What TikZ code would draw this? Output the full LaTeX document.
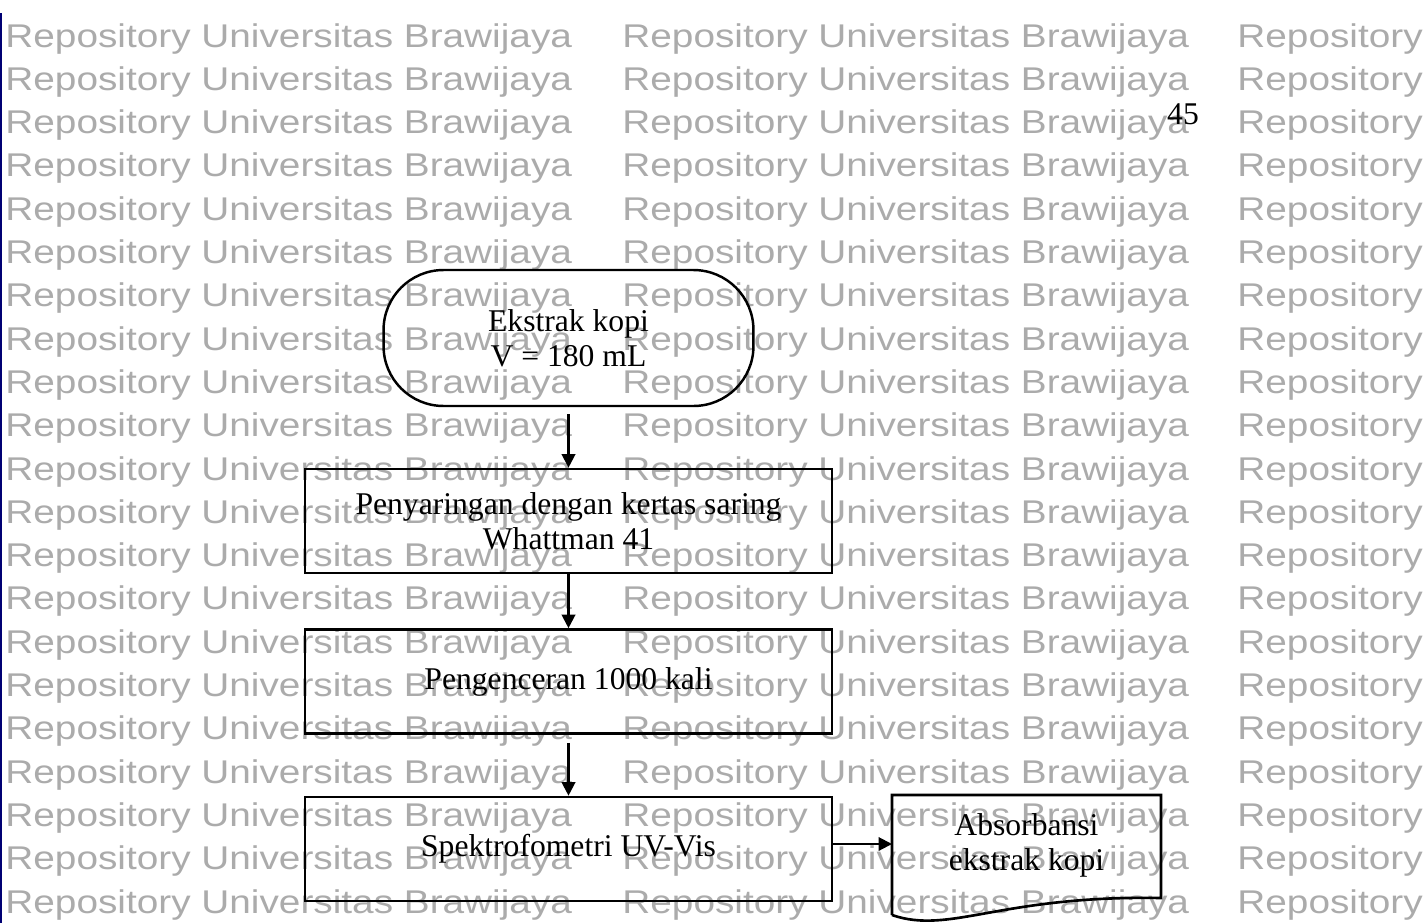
\documentclass[tikz,border=0pt]{standalone}
\usepackage{fontspec}
\setmainfont{Liberation Serif}
\newfontfamily\wmfont{Liberation Sans}
\usetikzlibrary{arrows.meta}

\tikzset{
  wm/.style={anchor=base west, inner sep=0pt, text=black!33,
             font=\wmfont\fontsize{18.7}{18.7}\selectfont, xscale=1.18},
  proses/.style={draw, line width=1.5pt, align=center,
                 minimum width=10.54cm, minimum height=2.08cm,
                 font=\fontsize{18}{20}\selectfont},
  terminal/.style={draw, line width=1.4pt, align=center, rounded corners=1.2cm,
                   minimum width=7.4cm, minimum height=2.72cm,
                   font=\fontsize{18}{20}\selectfont},
  arr/.style={line width=1.2pt, -{Triangle[length=0.27cm,width=0.27cm]}}
}

\begin{document}
\begin{tikzpicture}[x=0.02cm, y=-0.02cm]

\pgfmathsetmacro{\rowgap}{43.3}
\pgfmathsetmacro{\midx}{568.5}

\useasboundingbox (0,0) rectangle (1423,923);
\clip (0,0) rectangle (1423,923);

% WATERMARK
\foreach \i in {0,...,20}{
  \node(wma\i)[wm] at (5,47+\rowgap*\i) {Repository Universitas Brawijaya};
  \node(wmb\i)[wm] at (622,47+\rowgap*\i) {Repository Universitas Brawijaya};
  \node(wmc\i)[wm] at (1237,47+\rowgap*\i) {Repository};
}
\draw[line width=1.5pt, color=blue!45!black] (1,13) -- (1,923);

\node(hal)[font=\fontsize{18}{20}\selectfont, inner sep=0pt] at (1183,114) {45};

% NODES

\node(ekstrak)[terminal] at (\midx,338) {Ekstrak kopi\\V = 180 mL};

\node(saring)[proses] at (\midx,521) {Penyaringan dengan kertas saring\\Whattman 41};

\node(encer)[proses] at (\midx,681.5) {Pengenceran 1000 kali};

\node(spektro)[proses] at (\midx,849) {Spektrofometri UV-Vis};

% output document
\coordinate (hasilkiri) at (892,844);
\draw[line width=1.5pt] (892,915) -- (892,795) -- (1161,795) -- (1161,898)
      .. controls (1000,895) and (950,935) .. (892,915);
\node(hasil)[font=\fontsize{18}{20}\selectfont, align=center] at (1026.5,845)
      {Absorbansi\\ekstrak kopi};

% ARROWS
\draw[arr, shorten <=0.14cm] (ekstrak.south) -- (saring.north);
\draw[arr] (saring.south) -- (encer.north);
\draw[arr, shorten <=0.16cm] (encer.south) -- (spektro.north);
\draw[arr] (spektro.east |- hasilkiri) -- (hasilkiri);

\end{tikzpicture}
\end{document}
